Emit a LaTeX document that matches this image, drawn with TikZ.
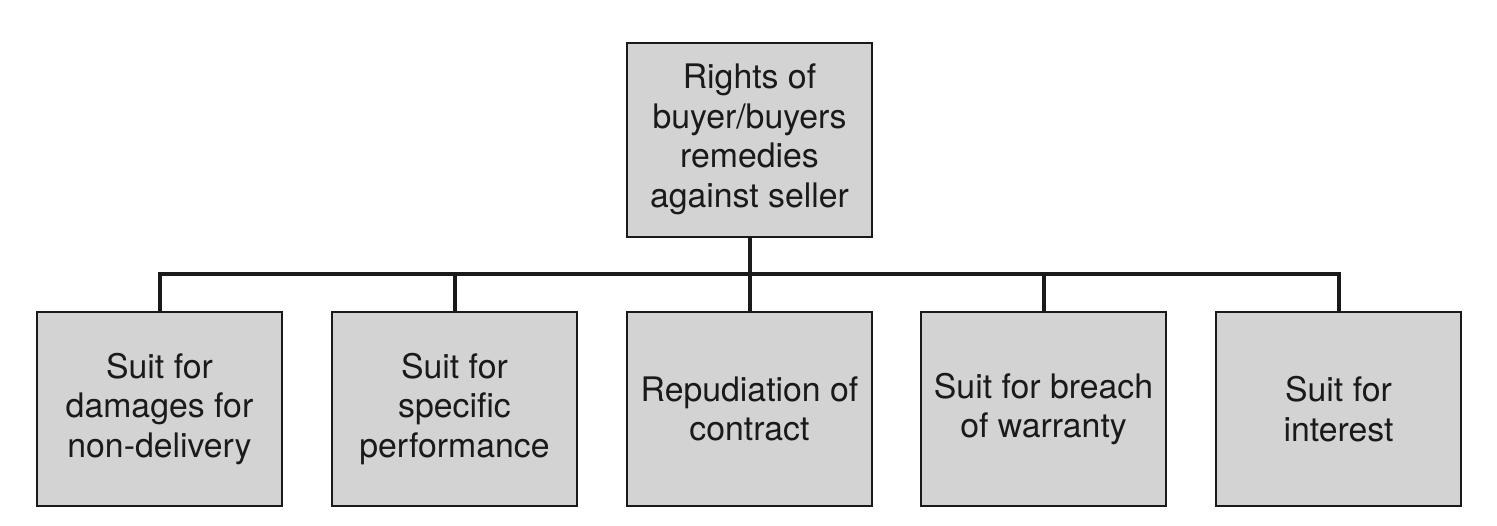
\documentclass[tikz,border=0pt]{standalone}
\usepackage{fontspec}
\setmainfont{TeX Gyre Heros}
\definecolor{boxfill}{HTML}{D3D3D3}
\definecolor{ink}{HTML}{1A1A1A}
\begin{document}
\begin{tikzpicture}[x=0.5pt,y=-0.5pt,
  box/.style={draw=ink, fill=boxfill, line width=1pt, minimum width=122.5pt, minimum height=97pt,
    align=center, inner sep=0pt, text=ink, font=\fontsize{16.9pt}{19.8pt}\selectfont,
    execute at begin node={\rule{0pt}{15pt}}},
  conn/.style={draw=ink, line width=2pt}]
\useasboundingbox (0,0) rectangle (1497,525);
\node[box] (top) at (749.5,139.5) {Rights of\\buyer/buyers\\remedies\\against seller};
\node[box] (c1) at (159.5,409) {Suit for\\damages for\\non-delivery};
\node[box] (c2) at (454.5,409) {Suit for\\specific\\performance};
\node[box] (c3) at (749.5,409) {Repudiation of\\contract};
\node[box] (c4) at (1043.5,409) {Suit for breach\\of warranty};
\node[box] (c5) at (1338.5,409) {Suit for\\interest};
\coordinate (bus) at (749.5,274);
\draw[conn] (c1.north) -- (c1.north |- bus) -- (c5.north |- bus) -- (c5.north);
\draw[conn] (top.south) -- (c3.north);
\draw[conn] (c2.north) -- (c2.north |- bus);
\draw[conn] (c4.north) -- (c4.north |- bus);
\end{tikzpicture}
\end{document}
